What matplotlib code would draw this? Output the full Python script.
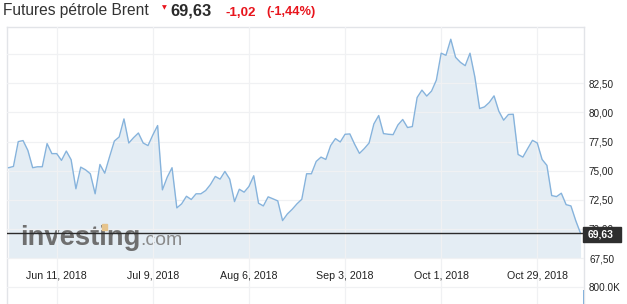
import numpy as np
import pandas as pd
import matplotlib
matplotlib.use("Agg")
import matplotlib.pyplot as plt
from matplotlib.patches import Rectangle

plt.rcParams['font.family'] = ['Liberation Sans', 'DejaVu Sans']

# daily closes, Brent futures (trading days from May 28, 2018)
dates = pd.bdate_range("2018-05-28", periods=120)
prices = [75.26, 75.37, 77.50, 77.59, 76.75, 75.26, 75.34, 75.34, 77.33, 76.47,
          76.47, 75.89, 76.69, 75.95, 73.45, 75.31, 75.08, 74.74, 73.02, 75.54,
          74.79, 76.20, 77.55, 77.90, 79.45, 77.38, 77.84, 78.24, 77.38, 77.16,
          78.07, 78.88, 73.36, 74.45, 75.26, 71.81, 72.16, 72.81, 72.53, 73.02,
          73.02, 73.30, 73.82, 74.51, 74.28, 74.94, 74.28, 72.35, 73.41, 73.16,
          73.65, 74.57, 72.21, 71.98, 72.76, 72.59, 72.41, 70.72, 71.29, 71.69,
          72.16, 72.55, 74.74, 74.74, 75.80, 76.17, 75.97, 77.16, 77.76, 77.47,
          78.13, 78.16, 77.27, 76.49, 76.90, 77.38, 79.02, 79.74, 78.19, 78.13,
          78.10, 78.93, 79.40, 78.71, 78.79, 81.29, 81.92, 81.41, 81.84, 82.78,
          85.09, 84.91, 86.29, 84.74, 84.31, 84.02, 85.09, 83.07, 80.34, 80.48,
          80.86, 81.43, 80.11, 79.34, 79.83, 79.85, 76.40, 76.17, 76.90, 77.61,
          77.38, 75.97, 75.46, 72.87, 72.78, 73.07, 72.09, 71.98, 70.72, 69.63]
last_volume = 660e3

tick_idx = [10, 30, 50, 70, 90, 110]
price_ticks = [67.5, 70.0, 72.5, 75.0, 77.5, 80.0, 82.5]
grid_levels = [67.5, 70.0, 72.5, 75.0, 77.5, 80.0, 82.5, 85.0]
change = "-1,02"
change_pct = "(-1,44%)"

W, H = 627, 304
LINE = "#86b3dc"
FILL = "#e4edf4"
GRID = "#f0f1f3"
BORDER = "#e2e4e8"
RED = "#e8141c"


def fy(y):
    return 1 - y / H


def comma(v):
    return f"{v:.2f}".replace(".", ",")


fig = plt.figure(figsize=(W / 100, H / 100), dpi=100)
ax = fig.add_axes([7 / W, 0, 577 / W, (H - 27) / H])
x = np.arange(len(prices))

ax.fill_between(x, prices, 67.5, color=FILL, lw=0, zorder=1)
ax.plot(x, prices, color=LINE, lw=1.0, zorder=3)
ax.axhline(prices[-1], color="#2b2b2b", lw=1.0, zorder=4)

ax.set_xlim(-0.34, 119.72)
ax.set_ylim(63.56, 87.34)
ax.set_xticks(tick_idx)
ax.set_xticklabels([])
ax.set_yticks(grid_levels)
ax.set_yticklabels([comma(v) if v in price_ticks else "" for v in grid_levels])
ax.yaxis.tick_right()
ax.tick_params(length=0, labelsize=7.2, pad=3.6, colors="#222222")
ax.tick_params(axis="x", labelbottom=False)
ax.grid(True, color=GRID, lw=0.9)
ax.set_axisbelow(False)
for g in ax.get_xgridlines() + ax.get_ygridlines():
    g.set_zorder(2)
for s in ["left", "top", "right"]:
    ax.spines[s].set_color(BORDER)
    ax.spines[s].set_linewidth(1.0)
ax.spines["bottom"].set_visible(False)
ax.patch.set_alpha(0)

for i in tick_idx:
    d = dates[i]
    ax.text(i, 66.0, f"{d:%b} {d.day}, {d.year}", ha="center", va="center",
            fontsize=7.7, color="#222222")

# volume strip
vax = fig.add_axes([7 / W, 0, 577 / W, 18 / H])
vax.bar([x[-1] + 0.6], [last_volume], width=0.25, color=LINE, lw=0)
vax.set_xlim(-0.34, 119.72)
vax.set_ylim(0, 850e3)
vax.set_yticks([800e3])
vax.set_yticklabels(["800.0K"])
vax.yaxis.tick_right()
vax.set_xticks([])
vax.tick_params(length=0, labelsize=7.2, pad=3.6, colors="#222222")
vax.yaxis.grid(True, color=GRID, lw=0.9)
vax.patch.set_alpha(0)
for s in vax.spines.values():
    s.set_visible(False)

# last price box
fig.add_artist(Rectangle((583 / W, fy(242.3)), 38 / W, 15.6 / H,
                         transform=fig.transFigure, color="#2e2e2e", zorder=5))
fig.text(587.5 / W, fy(234.5), comma(prices[-1]), fontsize=7.4,
         fontweight="bold", color="white", va="center", zorder=6)

# watermark
ax.text(20 / W, fy(245), "investing", transform=fig.transFigure, fontsize=19.7,
        fontweight="bold", color="#6f6f6f", va="baseline", zorder=2.5)
ax.text(140.5 / W, fy(245), ".com", transform=fig.transFigure, fontsize=14,
        color="#8a8a8a", va="baseline", zorder=2.5)
ax.add_artist(Rectangle((101.5 / W, fy(230)), 5.5 / W, 6 / H,
                        transform=fig.transFigure, color="#e6c48c", zorder=2.6))

# header
fig.text(3 / W, fy(15.5), "Futures pétrole Brent", fontsize=11.2,
         color="#333333", va="baseline")
fig.text(161.5 / W, fy(9), "▼", family="DejaVu Sans", fontsize=4.5,
         color=RED, va="baseline")
fig.text(170.5 / W, fy(15.5), comma(prices[-1]), fontsize=11.8,
         fontweight="bold", color="#2a2a2a", va="baseline")
fig.text(225 / W, fy(15.5), change, fontsize=9.6, fontweight="bold",
         color=RED, va="baseline")
fig.text(266.5 / W, fy(15.5), change_pct, fontsize=9.2, fontweight="bold",
         color=RED, va="baseline")

plt.savefig("out.png", dpi=100)
